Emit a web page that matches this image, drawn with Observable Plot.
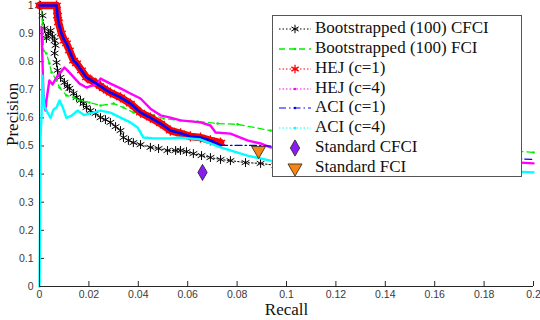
<!DOCTYPE html>
<html>
<head>
<meta charset="utf-8">
<script src="https://cdn.jsdelivr.net/npm/d3@7"></script>
<script src="https://cdn.jsdelivr.net/npm/@observablehq/plot@0.6"></script>
<style>
  html, body { margin: 0; padding: 0; background: #fff; }
  #wrap { position: relative; width: 540px; height: 320px; }
  #legend { position: absolute; left: 272px; top: 15px; width: 250px; height: 162px;
            border: 1px solid #555; background: #fff; box-sizing: border-box; }
  .row { position: absolute; left: 0; height: 20px; width: 248px; }
  .row svg { position: absolute; left: 4px; top: 0; }
  .row span { position: absolute; left: 42px; top: -1px; font: 17px "Liberation Serif", "Times New Roman", serif;
              line-height: 20px; color: #111; white-space: nowrap; }
</style>
</head>
<body>
<div id="wrap"><div id="chart"></div><div id="legend"></div></div>
<script>
// ---- Data ----
const xTicks = [0, 0.02, 0.04, 0.06, 0.08, 0.1, 0.12, 0.14, 0.16, 0.18, 0.2];
const yTicks = [0, 0.1, 0.2, 0.3, 0.4, 0.5, 0.6, 0.7, 0.8, 0.9, 1];

const seriesNames = ["Bootstrapped (100) CFCI", "Bootstrapped (100) FCI", "HEJ (c=1)", "HEJ (c=4)",
                     "ACI (c=1)", "ACI (c=4)", "Standard CFCI", "Standard FCI"];

// Bootstrapped (100) CFCI
const recallBootCFCI = [0.0004,0.0012,0.002,0.0028,0.0036,0.0045,0.0053,0.0061,0.0065,0.0061,0.0069,0.0073,0.0085,0.0101,0.0113,0.0121,0.0138,0.015,0.0166,0.0178,0.019,0.0206,0.0227,0.0247,0.0267,0.0287,0.0308,0.0328,0.034,0.036,0.038,0.0409,0.0449,0.0482,0.0518,0.0551,0.0571,0.0595,0.0623,0.0656,0.0692,0.0733,0.0773,0.0834,0.0895,0.0955,0.1];
const precBootCFCI   = [1.0,0.964,0.918,0.883,0.9,0.911,0.89,0.875,0.858,0.83,0.797,0.769,0.744,0.726,0.712,0.705,0.687,0.673,0.662,0.651,0.637,0.626,0.616,0.601,0.594,0.584,0.569,0.555,0.53,0.52,0.512,0.505,0.495,0.491,0.484,0.484,0.484,0.48,0.473,0.466,0.459,0.452,0.448,0.441,0.438,0.431,0.428];

// Bootstrapped (100) FCI
const recallBootFCI = [0.0008,0.0012,0.0016,0.0016,0.0028,0.004,0.0049,0.0069,0.0081,0.0109,0.0138,0.0162,0.0202,0.0247,0.03,0.034,0.0381,0.0421,0.0462,0.0502,0.0571,0.064,0.0721,0.0802,0.0935,0.2];
const precBootFCI   = [0.989,0.932,0.883,0.84,0.829,0.794,0.762,0.733,0.708,0.68,0.673,0.662,0.655,0.644,0.651,0.637,0.619,0.616,0.609,0.598,0.591,0.587,0.58,0.577,0.555,0.477];

// HEJ (c=1)
const recallHEJ1 = [0,0.0069,0.0073,0.0077,0.0089,0.0101,0.0109,0.0121,0.0138,0.015,0.017,0.019,0.0211,0.0231,0.0259,0.0287,0.0328,0.0368,0.0409,0.0449,0.049,0.053,0.0571,0.0611,0.0652,0.0692,0.0733];
const precHEJ1   = [1.0,1.0,0.964,0.94,0.9,0.875,0.865,0.84,0.804,0.794,0.769,0.744,0.733,0.722,0.705,0.69,0.673,0.651,0.619,0.601,0.58,0.555,0.545,0.534,0.53,0.52,0.512];

// HEJ (c=4)
const recallHEJ4 = [0.0008,0.0012,0.0016,0.0024,0.0028,0.004,0.0053,0.0069,0.0085,0.0101,0.0113,0.0162,0.019,0.0211,0.0231,0.0247,0.0287,0.0328,0.0368,0.0409,0.0449,0.049,0.053,0.0571,0.0652,0.0692,0.0713,0.0773,0.0842,0.0895,0.0935,0.2];
const precHEJ4   = [0.922,0.804,0.68,0.626,0.662,0.733,0.719,0.744,0.762,0.779,0.769,0.722,0.708,0.715,0.719,0.74,0.722,0.705,0.687,0.669,0.633,0.609,0.601,0.591,0.584,0.573,0.548,0.544,0.52,0.509,0.495,0.438];

// ACI (c=1)
const recallACI1 = [0,0.0069,0.0073,0.0077,0.0089,0.0101,0.0109,0.0121,0.0138,0.015,0.017,0.019,0.0211,0.0231,0.0259,0.0287,0.0328,0.0368,0.0409,0.0449,0.049,0.053,0.0571,0.0611,0.0652,0.0692,0.0733,0.0887,0.2];
const precACI1   = [1.0,1.0,0.964,0.94,0.9,0.875,0.865,0.84,0.804,0.794,0.769,0.744,0.733,0.722,0.705,0.69,0.673,0.651,0.619,0.601,0.58,0.555,0.545,0.534,0.53,0.52,0.502,0.502,0.452];

// ACI (c=4)
const recallACI4 = [0,0.0004,0.0004,0.0008,0.0012,0.0016,0.002,0.0032,0.0045,0.0057,0.0069,0.0081,0.0093,0.0109,0.013,0.0154,0.018,0.0202,0.0247,0.0287,0.0328,0.0368,0.0397,0.0421,0.0462,0.053,0.0571,0.0652,0.0733,0.0842,0.0935,0.2];
const precACI4   = [0,0.45,0.53,0.6,0.75,0.68,0.64,0.62,0.6,0.63,0.637,0.662,0.64,0.6,0.608,0.626,0.61,0.615,0.626,0.619,0.601,0.584,0.566,0.53,0.527,0.527,0.53,0.523,0.495,0.466,0.448,0.406];

// Standard (single points)
const recallStdCFCI = [0.066];
const precStdCFCI   = [0.406];
const recallStdFCI  = [0.0887];
const precStdFCI    = [0.484];

// ---- Build tables ----
const pts = (r, p) => r.map((x, i) => ({recall: x, precision: p[i]}));
const bootCFCI = pts(recallBootCFCI, precBootCFCI);
const bootFCI  = pts(recallBootFCI, precBootFCI);
const hej1     = pts(recallHEJ1, precHEJ1);
const hej4     = pts(recallHEJ4, precHEJ4);
const aci1     = pts(recallACI1, precACI1);
const aci4     = pts(recallACI4, precACI4);
const stdCFCI  = pts(recallStdCFCI, precStdCFCI);
const stdFCI   = pts(recallStdFCI, precStdFCI);

const C = {black:"#000000", green:"#00ee00", red:"#ff0000", magenta:"#ff00ff", blue:"#0000ff",
           cyan:"#00ffff", purple:"#8a1cf2", orange:"#f5860f"};
const fmt = d => d === 0 ? "0" : String(+d.toFixed(2));
const xy = {x: "recall", y: "precision"};

const chart = Plot.plot({
  width: 540, height: 320,
  marginLeft: 39, marginRight: 7, marginTop: 5, marginBottom: 34,
  x: {domain: [0, 0.2]},
  y: {domain: [0, 1]},
  style: {background: "#fff", fontFamily: "'Liberation Sans', Arial, sans-serif", fontSize: "10.5px",
          color: "#3a3a3a", overflow: "visible"},
  marks: [
    Plot.axisX({ticks: xTicks, tickSize: 0, tickPadding: 4, tickFormat: fmt, label: null}),
    Plot.axisY({ticks: yTicks, tickSize: 0, tickPadding: 6, tickFormat: fmt, label: null}),
    Plot.tickX(xTicks, {x: d => d, insetTop: 276, stroke: "#262626"}),
    Plot.tickY(yTicks, {y: d => d, insetRight: 489, stroke: "#262626"}),
    // Bootstrapped CFCI
    Plot.line(bootCFCI, {...xy, stroke: C.black, strokeWidth: 1, strokeDasharray: "1.5,2"}),
    Plot.dot(bootCFCI, {...xy, symbol: "asterisk", r: 4.2, stroke: C.black, strokeWidth: 1}),
    // Bootstrapped FCI
    Plot.line(bootFCI, {...xy, stroke: C.green, strokeWidth: 1.3, strokeDasharray: "6,4"}),
    Plot.dot(bootFCI, {...xy, r: 1.3, fill: C.green}),
    // HEJ c=1
    Plot.line(hej1, {...xy, stroke: C.red, strokeWidth: 7.5}),
    Plot.dot(hej1, {...xy, symbol: "asterisk", r: 4.8, stroke: C.red, strokeWidth: 1.3}),
    // HEJ c=4
    Plot.line(hej4, {...xy, stroke: C.magenta, strokeWidth: 2.4}),
    // ACI c=1
    Plot.line(aci1.filter(d => d.recall <= 0.0733), {...xy, stroke: C.blue, strokeWidth: 2.6}),
    Plot.line(aci1.filter(d => d.recall >= 0.0733), {...xy, stroke: C.blue, strokeWidth: 1.2, strokeDasharray: "7,3,1.5,3"}),
    // ACI c=4
    Plot.line(aci4, {...xy, stroke: C.cyan, strokeWidth: 2.4}),
    // Standard points
    Plot.dot(stdCFCI, {...xy, symbol: "diamond", r: 4.9, fill: C.purple, stroke: "#222", strokeWidth: 0.8}),
    Plot.dot(stdFCI, {...xy, symbol: "triangle", rotate: 180, r: 5.2, fill: C.orange, stroke: "#222", strokeWidth: 0.8}),
    // axis lines
    Plot.ruleY([0], {stroke: "#262626"}),
    Plot.ruleX([0], {stroke: "#262626"}),
    // axis titles
    Plot.text(["Precision"], {text: d => d, frameAnchor: "left", dx: -27, rotate: -90,
      fontSize: 17, fontFamily: "'Liberation Serif', 'Times New Roman', serif", fill: "#111"}),
    Plot.text(["Recall"], {text: d => d, frameAnchor: "bottom", dy: 28,
      fontSize: 17, fontFamily: "'Liberation Serif', 'Times New Roman', serif", fill: "#111"})
  ]
});
document.getElementById("chart").appendChild(chart);

// ---- Legend ----
const sym = (type, size) => d3.symbol(type, size)();
const samples = [
  `<line x1="2" x2="34" y1="10" y2="10" stroke="${C.black}" stroke-dasharray="1.5,2"/><path transform="translate(18,10)" d="${sym(d3.symbolAsterisk, 50)}" stroke="${C.black}" fill="none"/>`,
  `<line x1="2" x2="34" y1="10" y2="10" stroke="${C.green}" stroke-width="1.3" stroke-dasharray="6,4"/><circle cx="18" cy="10" r="1.3" fill="${C.green}"/>`,
  `<line x1="2" x2="34" y1="10" y2="10" stroke="${C.red}" stroke-dasharray="1.5,2"/><path transform="translate(18,10)" d="${sym(d3.symbolAsterisk, 50)}" stroke="${C.red}" stroke-width="1.3" fill="none"/>`,
  `<line x1="2" x2="34" y1="10" y2="10" stroke="${C.magenta}" stroke-width="1.2" stroke-dasharray="1.5,2"/><circle cx="18" cy="10" r="1.3" fill="${C.magenta}"/>`,
  `<line x1="2" x2="34" y1="10" y2="10" stroke="${C.blue}" stroke-width="1.2" stroke-dasharray="7,3,1.5,3"/><circle cx="18" cy="10" r="1.3" fill="${C.blue}"/>`,
  `<line x1="2" x2="34" y1="10" y2="10" stroke="${C.cyan}" stroke-width="1.2" stroke-dasharray="1.5,2"/><circle cx="18" cy="10" r="1.3" fill="${C.cyan}"/>`,
  `<path transform="translate(18,10)" d="${sym(d3.symbolDiamond, 76)}" fill="${C.purple}" stroke="#222" stroke-width="0.8"/>`,
  `<path transform="translate(18,10) rotate(180)" d="${sym(d3.symbolTriangle, 85)}" fill="${C.orange}" stroke="#222" stroke-width="0.8"/>`
];
const legend = document.getElementById("legend");
seriesNames.forEach((name, i) => {
  const row = document.createElement("div");
  row.className = "row";
  row.style.top = (3 + i * 19.85) + "px";
  row.innerHTML = `<svg width="36" height="20">${samples[i]}</svg><span>${name}</span>`;
  legend.appendChild(row);
});
</script>
</body>
</html>
